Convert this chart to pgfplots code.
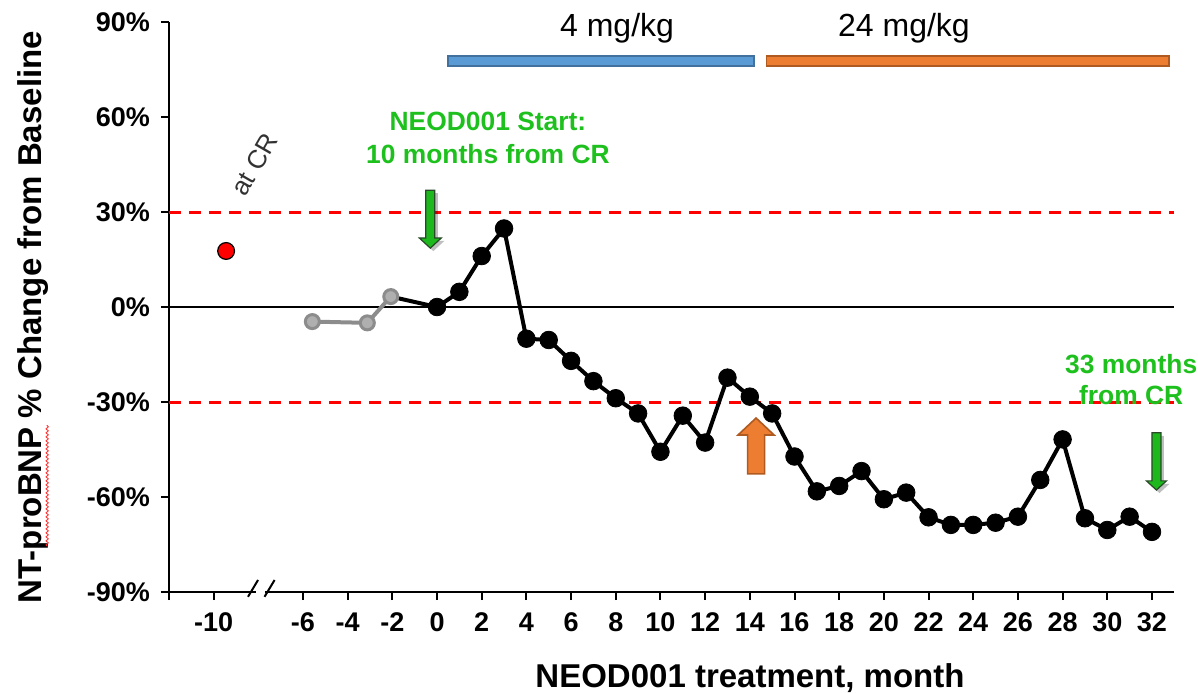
\documentclass[border=0pt]{standalone}
\usepackage{fontspec}
\setmainfont{Liberation Sans}
\usepackage{pgfplots}
\pgfplotsset{compat=1.18}
\usetikzlibrary{decorations.pathmorphing}
\definecolor{grline}{RGB}{140,140,140}
\definecolor{grfill}{RGB}{175,175,175}
\definecolor{bbar}{RGB}{91,155,213}
\definecolor{bbard}{RGB}{65,113,156}
\definecolor{obar}{RGB}{237,125,49}
\definecolor{obard}{RGB}{174,90,33}
\definecolor{gtext}{RGB}{30,192,30}
\definecolor{garrow}{RGB}{28,184,28}
\definecolor{garrowd}{RGB}{40,72,40}
\definecolor{atcr}{RGB}{50,50,50}
\begin{document}
\begin{tikzpicture}
\begin{axis}[
  x=11.17pt, y=1.5833pt,
  xmin=-12, xmax=33, ymin=-90, ymax=90,
  axis x line*=bottom, axis y line*=left,
  axis line style={line width=1.4pt, -},
  xtick={-12,-10,-6,-4,-2,0,2,4,6,8,10,12,14,16,18,20,22,24,26,28,30,32},
  xticklabels={,-10,-6,-4,-2,0,2,4,6,8,10,12,14,16,18,20,22,24,26,28,30,32},
  ytick={-90,-60,-30,0,30,60,90},
  yticklabels={-90\%,-60\%,-30\%,0\%,30\%,60\%,90\%},
  tick align=outside,
  major tick length=4pt,
  tick style={line width=1pt, black},
  ticklabel style={font=\fontsize{13.5}{16}\selectfont\bfseries},
  xticklabel style={anchor=north, yshift=-3pt},
  yticklabel style={anchor=east, xshift=-2pt},
  clip=false,
]
% bounding box corners
\coordinate (bbsw) at (axis cs:-19.56,-121.6);
\coordinate (bbne) at (axis cs:34.06,96.95);
% zero line and thresholds
\draw[black, line width=1pt] (axis cs:-12,0) -- (axis cs:33,0);
\draw[red, line width=1.5pt, dash pattern=on 6pt off 4pt] (axis cs:-12,30) -- (axis cs:33,30);
\draw[red, line width=1.5pt, dash pattern=on 6pt off 4pt] (axis cs:-12,-30) -- (axis cs:33,-30);
% axis break
\fill[white] (axis cs:-8.1,-92) rectangle (axis cs:-7.68,-88);
\draw[black, line width=1pt] (axis cs:-8.46,-91.5) -- (axis cs:-8.01,-86.2);
\draw[black, line width=1pt] (axis cs:-7.72,-91.5) -- (axis cs:-7.27,-86.2);
% dose bars
\filldraw[fill=bbar, draw=bbard, line width=0.8pt] (axis cs:0.5,76.1) rectangle (axis cs:14.2,79.3);
\filldraw[fill=obar, draw=obard, line width=0.8pt] (axis cs:14.75,76.1) rectangle (axis cs:32.75,79.3);
\node[font=\fontsize{16}{19}\selectfont] at (axis cs:8.06,88.1) {4 mg/kg};
\node[font=\fontsize{16}{19}\selectfont] at (axis cs:20.9,88.1) {24 mg/kg};
% series
\addplot[black, line width=2pt] coordinates {(-2.07,3.3) (0,0)};
\addplot[black, line width=2pt, mark=*, mark size=4.4pt, mark options={solid, fill=black, line width=0.4pt}] coordinates {
(0,0) (1,4.8) (2,16.1) (3,24.8) (4,-10) (5,-10.4) (6,-17) (7,-23.4) (8,-28.8) (9,-33.6)
(10,-45.7) (11,-34.3) (12,-42.8) (13,-22.3) (14,-28.3) (15,-33.6) (16,-47.2) (17,-58.2)
(18,-56.5) (19,-51.8) (20,-60.7) (21,-58.6) (22,-66.4) (23,-68.8) (24,-68.8) (25,-68.1)
(26,-66.2) (27,-54.6) (28,-41.8) (29,-66.7) (30,-70.4) (31,-66.2) (32,-71)};
\addplot[grline, line width=2pt, mark=*, mark size=3.5pt, mark options={solid, fill=grfill, draw=grline, line width=1.5pt}] coordinates {(-5.58,-4.6) (-3.12,-5) (-2.07,3.3)};
\addplot[only marks, mark=*, mark size=4.2pt, mark options={fill=red, draw=black, line width=0.6pt}] coordinates {(-9.44,17.7)};
% at CR
\node[rotate=60, anchor=base west, text=atcr, font=\fontsize{13}{15}\selectfont] at (axis cs:-8.72,32.5) {at CR};
% green arrow 1 (shadow + arrow)
\fill[black, opacity=0.25] ([xshift=-0.75pt,yshift=-1.5pt]axis cs:-0.3,36.9) -- ([xshift=3.75pt,yshift=-1.5pt]axis cs:-0.3,36.9) -- ([xshift=3.75pt,yshift=-1.5pt]axis cs:-0.3,21.8) -- ([xshift=7pt,yshift=-1.5pt]axis cs:-0.3,21.8) -- ([xshift=1.5pt,yshift=-1.5pt]axis cs:-0.3,18.6) -- ([xshift=-4pt,yshift=-1.5pt]axis cs:-0.3,21.8) -- ([xshift=-0.75pt,yshift=-1.5pt]axis cs:-0.3,21.8) -- cycle;
\filldraw[fill=garrow, draw=garrowd, line width=0.6pt] ([xshift=-2.25pt]axis cs:-0.3,36.9) -- ([xshift=2.25pt]axis cs:-0.3,36.9) -- ([xshift=2.25pt]axis cs:-0.3,21.8) -- ([xshift=5.5pt]axis cs:-0.3,21.8) -- (axis cs:-0.3,18.6) -- ([xshift=-5.5pt]axis cs:-0.3,21.8) -- ([xshift=-2.25pt]axis cs:-0.3,21.8) -- cycle;
% green arrow 2
\fill[black, opacity=0.25] ([xshift=-0.75pt,yshift=-1.5pt]axis cs:32.2,-39.7) -- ([xshift=3.75pt,yshift=-1.5pt]axis cs:32.2,-39.7) -- ([xshift=3.75pt,yshift=-1.5pt]axis cs:32.2,-54.9) -- ([xshift=6.5pt,yshift=-1.5pt]axis cs:32.2,-54.9) -- ([xshift=1.5pt,yshift=-1.5pt]axis cs:32.2,-57.8) -- ([xshift=-3.5pt,yshift=-1.5pt]axis cs:32.2,-54.9) -- ([xshift=-0.75pt,yshift=-1.5pt]axis cs:32.2,-54.9) -- cycle;
\filldraw[fill=garrow, draw=garrowd, line width=0.6pt] ([xshift=-2.25pt]axis cs:32.2,-39.7) -- ([xshift=2.25pt]axis cs:32.2,-39.7) -- ([xshift=2.25pt]axis cs:32.2,-54.9) -- ([xshift=5pt]axis cs:32.2,-54.9) -- (axis cs:32.2,-57.8) -- ([xshift=-5pt]axis cs:32.2,-54.9) -- ([xshift=-2.25pt]axis cs:32.2,-54.9) -- cycle;
% orange arrow
\filldraw[fill=obar, draw=obard, line width=0.8pt] ([xshift=-4.25pt]axis cs:14.28,-52.7) -- ([xshift=4.25pt]axis cs:14.28,-52.7) -- ([xshift=4.25pt]axis cs:14.28,-40.4) -- ([xshift=9pt]axis cs:14.28,-40.4) -- (axis cs:14.28,-35.05) -- ([xshift=-9pt]axis cs:14.28,-40.4) -- ([xshift=-4.25pt]axis cs:14.28,-40.4) -- cycle;
% green texts
\node[text=gtext, font=\fontsize{13.2}{16}\selectfont\bfseries] at (axis cs:2.28,58.7) {NEOD001 Start:};
\node[text=gtext, font=\fontsize{13.2}{16}\selectfont\bfseries] at (axis cs:2.28,48.3) {10 months from CR};
\node[text=gtext, font=\fontsize{13.2}{16}\selectfont\bfseries] at (axis cs:31.07,-18.0) {33 months};
\node[text=gtext, font=\fontsize{13.2}{16}\selectfont\bfseries] at (axis cs:31.07,-27.8) {from CR};
% axis labels
\node[rotate=90, font=\fontsize{16.5}{19}\selectfont\bfseries] at (axis cs:-18.08,-3.2) {NT-proBNP \% Change from Baseline};
\draw[red!85, line width=0.4pt, decorate, decoration={snake, amplitude=0.6pt, segment length=2pt}] (axis cs:-17.45,-75.5) -- (axis cs:-17.45,-37.3);
\node[anchor=base, font=\fontsize{16.5}{19}\selectfont\bfseries] at (axis cs:14.01,-120.0) {NEOD001 treatment, month};
\end{axis}
\pgfresetboundingbox
\path (bbsw) rectangle (bbne);
\end{tikzpicture}
\end{document}
